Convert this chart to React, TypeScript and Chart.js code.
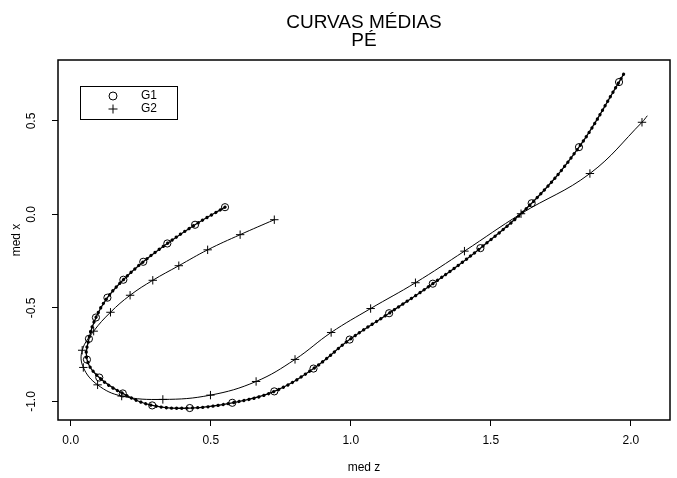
import React, { useEffect, useRef } from 'react';
import { Chart, registerables } from 'chart.js';

Chart.register(...registerables);

// G1 mean curve (med z, med x); last point = end of curve without marker
const g1X = [0.551, 0.444, 0.345, 0.259, 0.188, 0.131, 0.090, 0.065, 0.058, 0.102, 0.186, 0.291, 0.425, 0.577, 0.727, 0.867, 0.996, 1.137, 1.293, 1.463, 1.646, 1.815, 1.958, 1.975];
const g1Y = [0.039, -0.055, -0.155, -0.253, -0.349, -0.445, -0.551, -0.665, -0.776, -0.872, -0.957, -1.021, -1.035, -1.007, -0.946, -0.824, -0.669, -0.528, -0.370, -0.180, 0.060, 0.360, 0.708, 0.752];
// G2 mean curve
const g2X = [0.727, 0.605, 0.489, 0.386, 0.293, 0.212, 0.142, 0.082, 0.041, 0.045, 0.096, 0.182, 0.329, 0.499, 0.662, 0.801, 0.930, 1.071, 1.231, 1.406, 1.608, 1.854, 2.040, 2.059];
const g2Y = [-0.028, -0.108, -0.189, -0.274, -0.352, -0.432, -0.523, -0.624, -0.726, -0.818, -0.911, -0.971, -0.989, -0.966, -0.893, -0.775, -0.631, -0.503, -0.365, -0.196, 0.004, 0.219, 0.493, 0.528];

const xTicks = [0, 0.5, 1.0, 1.5, 2.0];
const yTicks = [-1.0, -0.5, 0.0, 0.5];
const xMin = -0.0454;
const xMax = 2.14;
const yMin = -1.099;
const yMax = 0.826;

const titleLines = ['CURVAS MÉDIAS', 'PÉ'];
const legendLabels = ['G1', 'G2'];
const xTitle = 'med z';
const yTitle = 'med x';

const FONT = "'Liberation Sans', Arial, Helvetica, sans-serif";

const toPts = (xs: number[], ys: number[]) => xs.map((x, i) => ({ x, y: ys[i] }));

const decorPlugin = {
  id: 'decor',
  afterDraw(chart: any) {
    const { ctx, chartArea } = chart;
    const { left, right, top, bottom } = chartArea;
    ctx.save();
    // box
    ctx.strokeStyle = '#000';
    ctx.lineWidth = 1.5;
    ctx.strokeRect(left, top, right - left, bottom - top);

    // y tick labels rotated
    const ys = chart.scales.y;
    ctx.fillStyle = '#000';
    ctx.font = `12px ${FONT}`;
    ctx.textAlign = 'center';
    ctx.textBaseline = 'middle';
    yTicks.forEach((v) => {
      const py = ys.getPixelForValue(v);
      ctx.save();
      ctx.translate(32, py);
      ctx.rotate(-Math.PI / 2);
      ctx.fillText(v.toFixed(1), 0, 0);
      ctx.restore();
    });

    // title
    const cx = (left + right) / 2;
    ctx.font = `19px ${FONT}`;
    ctx.textBaseline = 'alphabetic';
    ctx.fillText(titleLines[0], cx, 28);
    ctx.fillText(titleLines[1], cx, 46);

    // legend
    const lx = left + 22;
    const ly = top + 26;
    ctx.lineWidth = 1;
    ctx.strokeRect(lx + 0.5, ly + 0.5, 97, 33);
    const sx = lx + 33;
    const r1 = ly + 10;
    const r2 = ly + 23;
    ctx.beginPath();
    ctx.arc(sx, r1, 4, 0, Math.PI * 2);
    ctx.stroke();
    ctx.beginPath();
    ctx.moveTo(sx - 4.5, r2);
    ctx.lineTo(sx + 4.5, r2);
    ctx.moveTo(sx, r2 - 4.5);
    ctx.lineTo(sx, r2 + 4.5);
    ctx.stroke();
    ctx.font = `12px ${FONT}`;
    ctx.textAlign = 'left';
    ctx.textBaseline = 'middle';
    ctx.fillText(legendLabels[0], lx + 61, r1);
    ctx.fillText(legendLabels[1], lx + 61, r2);
    ctx.restore();
  },
};

export default function App() {
  const ref = useRef<HTMLCanvasElement | null>(null);
  useEffect(() => {
    if (!ref.current) return;
    Chart.defaults.font.family = FONT;
    const g1 = toPts(g1X, g1Y);
    const g2 = toPts(g2X, g2Y);
    const markerR = (n: number, r: number) => (c: any) => (c.dataIndex < n - 1 ? r : 0);
    const chart = new Chart(ref.current, {
      type: 'scatter',
      data: {
        datasets: [
          {
            label: legendLabels[0],
            data: g1,
            showLine: true,
            borderColor: '#000',
            borderWidth: 1.3,
            tension: 0.4,
            pointStyle: 'circle',
            pointRadius: markerR(g1.length, 3.6),
            pointBorderWidth: 1,
            pointBorderColor: '#000',
            pointBackgroundColor: 'rgba(0,0,0,0)',
            order: 1,
          },
          {
            label: legendLabels[0] + ' dots',
            data: g1,
            showLine: true,
            borderColor: '#000',
            borderWidth: 3.3,
            borderDash: [0.01, 5.2],
            borderCapStyle: 'round',
            tension: 0.4,
            pointRadius: 0,
            order: 0,
          },
          {
            label: legendLabels[1],
            data: g2,
            showLine: true,
            borderColor: '#000',
            borderWidth: 1,
            tension: 0.4,
            pointStyle: 'cross',
            pointRadius: markerR(g2.length, 4.2),
            pointBorderWidth: 1,
            pointBorderColor: '#000',
            order: 2,
          },
        ],
      } as any,
      options: {
        animation: false,
        responsive: false,
        layout: { padding: { top: 60, right: 7, left: 0, bottom: 0 } },
        plugins: { legend: { display: false }, tooltip: { enabled: false } },
        scales: {
          x: {
            type: 'linear',
            min: xMin,
            max: xMax,
            afterBuildTicks: (s: any) => {
              s.ticks = xTicks.map((v) => ({ value: v }));
            },
            afterFit: (s: any) => {
              s.height = 58;
            },
            grid: { drawOnChartArea: false, color: '#000', tickLength: 6, lineWidth: 1 },
            border: { display: false },
            ticks: {
              color: '#000',
              font: { size: 12, family: FONT },
              padding: 7,
              maxRotation: 0,
              autoSkip: false,
              callback: (v: any) => Number(v).toFixed(1),
            },
            title: {
              display: true,
              text: xTitle,
              color: '#000',
              font: { size: 12, family: FONT },
              padding: { top: 0, bottom: 3 },
            },
          },
          y: {
            type: 'linear',
            min: yMin,
            max: yMax,
            afterBuildTicks: (s: any) => {
              s.ticks = yTicks.map((v) => ({ value: v }));
            },
            afterFit: (s: any) => {
              s.width = 58;
            },
            grid: { drawOnChartArea: false, color: '#000', tickLength: 6, lineWidth: 1 },
            border: { display: false },
            ticks: { display: false },
            title: {
              display: true,
              text: yTitle,
              color: '#000',
              font: { size: 12, family: FONT },
              padding: { top: 9, bottom: 0 },
            },
          },
        },
      } as any,
      plugins: [decorPlugin],
    });
    return () => chart.destroy();
  }, []);
  return (
    <canvas
      ref={ref}
      width={677}
      height={478}
      style={{ position: 'absolute', left: 0, top: 0, width: 677, height: 478, background: '#fff' }}
    />
  );
}
